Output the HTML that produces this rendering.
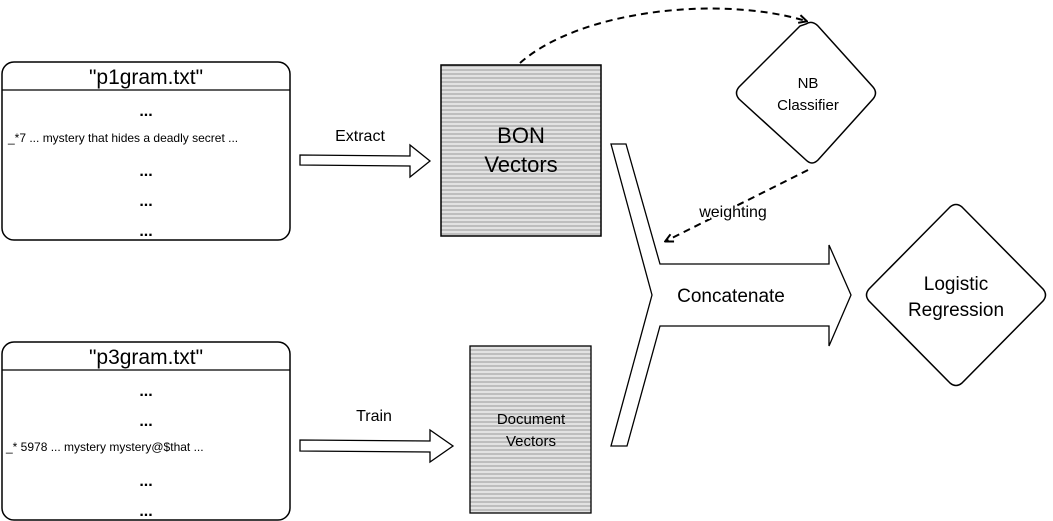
<!DOCTYPE html>
<html><head><meta charset="utf-8"><style>
html,body{margin:0;padding:0;background:#fff;}
svg{display:block;font-family:"Liberation Sans",Arial,sans-serif;}
</style></head><body>
<svg width="1053" height="521" viewBox="0 0 1053 521" xmlns="http://www.w3.org/2000/svg">
<defs>
<pattern id="hl" width="6" height="4" patternUnits="userSpaceOnUse">
<rect width="6" height="4" fill="#e2e2e2"/>
<line x1="0" y1="2" x2="6" y2="2" stroke="#999" stroke-width="1"/>
</pattern>
<marker id="ah" markerWidth="10" markerHeight="10" refX="8" refY="5" orient="auto" markerUnits="userSpaceOnUse">
<path d="M1,1 L9,5 L1,9" fill="none" stroke="#000" stroke-width="2"/>
</marker>
</defs>

<rect x="2" y="62" width="288" height="178" rx="12" fill="#fff" stroke="#000" stroke-width="1.5"/>
<line x1="2" y1="90" x2="290" y2="90" stroke="#000" stroke-width="1.2"/>
<text x="146" y="84" font-size="21" text-anchor="middle">"p1gram.txt"</text>
<text x="146" y="116" font-size="16" font-weight="bold" text-anchor="middle">...</text>
<text x="8" y="142" font-size="12">_*7 ... mystery that hides a deadly secret ...</text>
<text x="146" y="176" font-size="16" font-weight="bold" text-anchor="middle">...</text>
<text x="146" y="206" font-size="16" font-weight="bold" text-anchor="middle">...</text>
<text x="146" y="236" font-size="16" font-weight="bold" text-anchor="middle">...</text>

<rect x="2" y="342" width="288" height="178" rx="12" fill="#fff" stroke="#000" stroke-width="1.5"/>
<line x1="2" y1="370" x2="290" y2="370" stroke="#000" stroke-width="1.2"/>
<text x="146" y="364" font-size="21" text-anchor="middle">"p3gram.txt"</text>
<text x="146" y="396" font-size="16" font-weight="bold" text-anchor="middle">...</text>
<text x="146" y="426" font-size="16" font-weight="bold" text-anchor="middle">...</text>
<text x="6" y="451" font-size="12">_* 5978 ... mystery mystery@$that ...</text>
<text x="146" y="486" font-size="16" font-weight="bold" text-anchor="middle">...</text>
<text x="146" y="516" font-size="16" font-weight="bold" text-anchor="middle">...</text>

<path d="M300,155 L410,156 L410,145 L430,161 L410,177 L410,166 L300,165 Z" fill="#fff" stroke="#000" stroke-width="1.3"/>
<text x="360" y="141" font-size="16" text-anchor="middle">Extract</text>
<path d="M300,440 L430,441 L430,430 L453,446 L430,462 L430,452 L300,451 Z" fill="#fff" stroke="#000" stroke-width="1.3"/>
<text x="374" y="421" font-size="16" text-anchor="middle">Train</text>

<rect x="441" y="65" width="160" height="171" fill="url(#hl)" stroke="#000" stroke-width="1.5"/>
<text x="521" y="143" font-size="22" text-anchor="middle">BON</text>
<text x="521" y="172" font-size="22" text-anchor="middle">Vectors</text>

<rect x="470" y="346" width="121" height="167" fill="url(#hl)" stroke="#000" stroke-width="1.3"/>
<text x="531" y="424" font-size="15" text-anchor="middle">Document</text>
<text x="531" y="446" font-size="15" text-anchor="middle">Vectors</text>

<path d="M806,24 Q812,20 818,26 L873,87 Q878,93 873,99 L818,160 Q812,166 806,160 L739,99 Q734,93 739,87 L800,26 Z" fill="#fff" stroke="#000" stroke-width="1.5"/>
<text x="808" y="88" font-size="15" text-anchor="middle">NB</text>
<text x="808" y="110" font-size="15" text-anchor="middle">Classifier</text>

<path d="M950,207 Q956,202 962,207 L1043,289 Q1048,295 1043,301 L962,383 Q956,388 950,383 L869,301 Q864,295 869,289 Z" fill="#fff" stroke="#000" stroke-width="1.5"/>
<text x="956" y="290" font-size="19" text-anchor="middle">Logistic</text>
<text x="956" y="316" font-size="19" text-anchor="middle">Regression</text>

<path d="M611,144 L626,144 L660,264 L829,264 L829,245 L851,295 L829,346 L829,326 L660,326 L627,446 L611,446 L652,295 Z" fill="#fff" stroke="#000" stroke-width="1.3"/>
<text x="731" y="302" font-size="19" text-anchor="middle">Concatenate</text>

<path d="M520,63 C580,10 720,-5 806,21" fill="none" stroke="#000" stroke-width="2" stroke-dasharray="7,5" marker-end="url(#ah)"/>
<path d="M808,170 L666,241" fill="none" stroke="#000" stroke-width="2" stroke-dasharray="7,5" marker-end="url(#ah)"/>
<text x="733" y="217" font-size="16" text-anchor="middle" style="paint-order:stroke" stroke="#fff" stroke-width="4">weighting</text>
</svg>
</body></html>
